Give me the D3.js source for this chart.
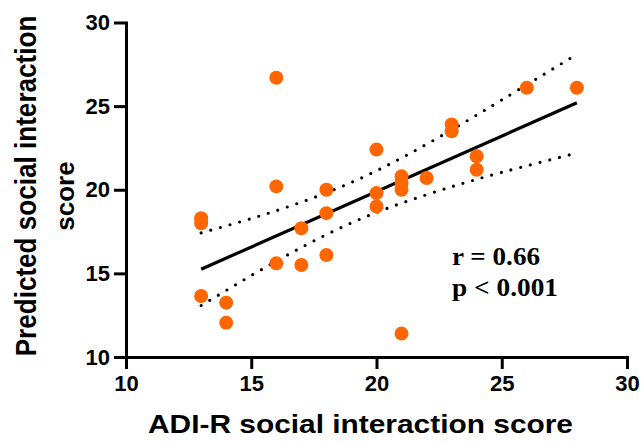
<!DOCTYPE html>
<html>
<head>
<meta charset="utf-8">
<script src="https://cdn.jsdelivr.net/npm/d3@7"></script>
<style>
  body { margin: 0; background: #fff; }
  text { font-family: "Liberation Sans", Arial, sans-serif; font-weight: bold; }
</style>
</head>
<body>
<div id="chart"></div>
<script>
// values
const adiScores = [13, 13, 13, 14, 14, 16, 16, 16, 17, 17, 18, 18, 18, 20, 20, 20, 21, 21, 21, 21, 22, 23, 23, 24, 24, 26, 28];
const predictedScores = [18.3, 18.0, 13.65, 13.25, 12.05, 26.7, 20.2, 15.6, 17.7, 15.5, 20.0, 18.6, 16.1, 22.4, 19.8, 19.0, 20.8, 20.4, 20.0, 11.4, 20.7, 23.9, 23.5, 22.0, 21.2, 26.1, 26.1];

const fitX = [13, 28];
const fitY = [15.25, 25.2];

const bandX = [13, 15, 17, 19, 21, 23, 25, 28];
const bandUpper = [17.42, 18.28, 19.26, 20.44, 21.9, 23.58, 25.37, 28.1];
const bandLower = [13.08, 14.87, 16.55, 18.02, 19.2, 20.18, 21.04, 22.2];

const xTicks = [10, 15, 20, 25, 30];
const yTicks = [10, 15, 20, 25, 30];

const statLines = ["r = 0.66", "p < 0.001"];

const width = 644;
const height = 444;

const svg = d3.select("#chart")
  .append("svg")
  .attr("width", width)
  .attr("height", height);

const x = d3.scaleLinear().domain([10, 30]).range([126, 627]);
const y = d3.scaleLinear().domain([10, 30]).range([357, 22.5]);

// axes
const xAxis = svg.append("g")
  .attr("transform", "translate(0,357)")
  .call(d3.axisBottom(x).tickValues(xTicks).tickSize(12).tickSizeOuter(0).tickPadding(6));

const yAxis = svg.append("g")
  .attr("transform", "translate(126,0)")
  .call(d3.axisLeft(y).tickValues(yTicks).tickSize(12).tickSizeOuter(0).tickPadding(4));

[xAxis, yAxis].forEach(a => {
  a.select(".domain").attr("stroke", "#000").attr("stroke-width", 3).attr("stroke-linecap", "square");
  a.selectAll(".tick line").attr("stroke", "#000").attr("stroke-width", 3);
  a.selectAll(".tick text")
    .attr("fill", "#000")
    .style("font-size", "22px")
    .style("font-family", "'Liberation Sans', Arial, sans-serif")
    .style("font-weight", "bold");
});

// confidence band (dotted)
const bandLine = d3.line()
  .x(d => x(d[0]))
  .y(d => y(d[1]))
  .curve(d3.curveNatural);

[bandUpper, bandLower].forEach(vals => {
  svg.append("path")
    .datum(bandX.map((v, i) => [v, vals[i]]))
    .attr("d", bandLine)
    .attr("fill", "none")
    .attr("stroke", "#000")
    .attr("stroke-width", 3.2)
    .attr("stroke-linecap", "round")
    .attr("stroke-dasharray", "0 10");
});

// regression line
svg.append("path")
  .datum(fitX.map((v, i) => [v, fitY[i]]))
  .attr("d", d3.line().x(d => x(d[0])).y(d => y(d[1])))
  .attr("fill", "none")
  .attr("stroke", "#000")
  .attr("stroke-width", 3.2);

// points
svg.selectAll("circle")
  .data(adiScores.map((v, i) => [v, predictedScores[i]]))
  .enter()
  .append("circle")
  .attr("cx", d => x(d[0]))
  .attr("cy", d => y(d[1]))
  .attr("r", 7)
  .attr("fill", "#ff6600");

// stats
svg.selectAll(".stat")
  .data(statLines)
  .enter()
  .append("text")
  .attr("class", "stat")
  .attr("x", 452)
  .attr("y", (d, i) => 265 + i * 31)
  .attr("textLength", (d, i) => i === 0 ? 88 : 106)
  .attr("lengthAdjust", "spacingAndGlyphs")
  .style("font-family", "'Liberation Serif', 'Times New Roman', serif")
  .style("font-size", "25px")
  .text(d => d);

// axis titles
svg.append("text")
  .attr("x", 360.5)
  .attr("y", 433)
  .attr("text-anchor", "middle")
  .attr("textLength", 425)
  .attr("lengthAdjust", "spacingAndGlyphs")
  .style("font-size", "26px")
  .text("ADI-R social interaction score");

// squeezed along its length instead of textLength so its box stays inside
svg.append("text")
  .attr("transform", "translate(36,186) rotate(-90) scale(0.9,1)")
  .attr("text-anchor", "middle")
  .style("font-size", "29px")
  .text("Predicted social interaction");

svg.append("text")
  .attr("transform", "translate(74,196) rotate(-90)")
  .attr("text-anchor", "middle")
  .style("font-size", "26px")
  .text("score");
</script>
</body>
</html>
